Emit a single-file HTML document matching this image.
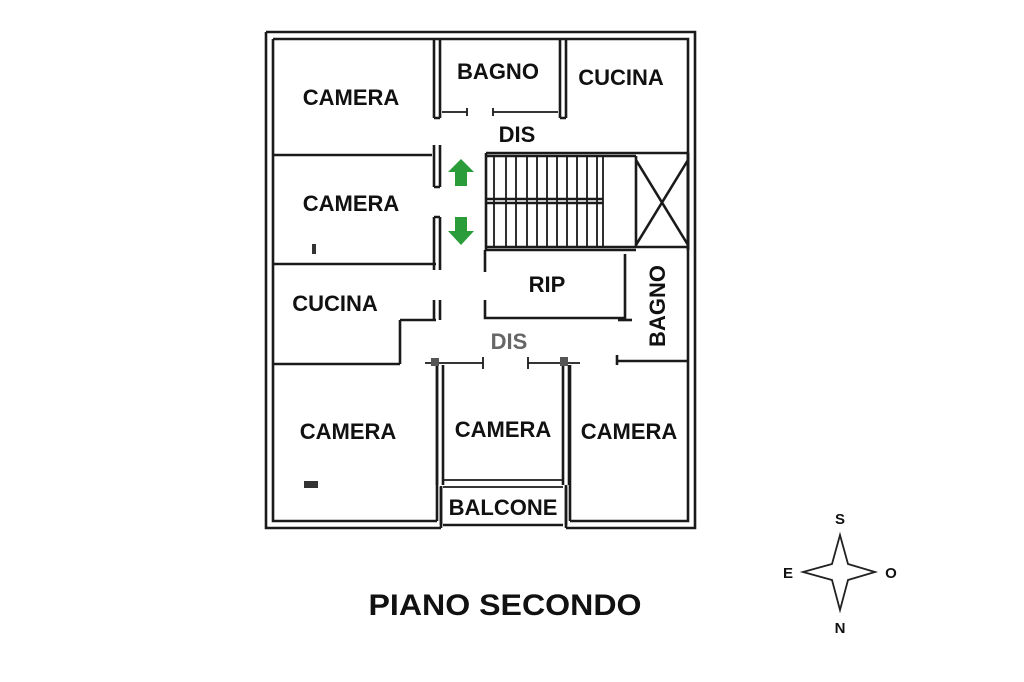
<!DOCTYPE html>
<html><head><meta charset="utf-8"><style>
html,body{margin:0;padding:0;background:#fff;}
svg{display:block;}
text{font-family:"Liberation Sans",sans-serif;font-weight:bold;fill:#111;}
</style></head><body>
<svg width="1024" height="682" viewBox="0 0 1024 682" xmlns="http://www.w3.org/2000/svg">
<g stroke="#1a1a1a" stroke-width="2.6" fill="none">
<path d="M266 32 H695 V528 H566 M266 32 V528 H441"/>
<path d="M273 39 H688 V521 H570 M273 39 V521 H437"/>
<path d="M441 528 V486 M437 521 V365"/>
<path d="M443 525 H563"/>
<path d="M566 528 V485 M570 521 V365"/>
<path d="M434 39 V118 M440 39 V118 M434 118 H440"/>
<path d="M560 39 V118 M566 39 V118 M560 118 H566"/>
<path d="M442 112 H467 M467 108 V116 M493 108 V116 M493 112 H558" stroke-width="1.8"/>
<path d="M274 155 H432"/>
<path d="M434 145 V187 M440 145 V187 M434 187 H440"/>
<path d="M434 217 V270 M440 217 V270 M434 217 H440"/>
<path d="M274 264 H436"/>
<path d="M486 153 H688 M486 156 H636"/>
<path d="M486 247 H688 M486 250 H636"/>
<path d="M486 153 V250"/>
<path d="M486 199 H603 M486 203 H603"/>
<path d="M494 156 V247 M506 156 V247 M516 156 V247 M527 156 V247 M537 156 V247 M547 156 V247 M557 156 V247 M567 156 V247 M577 156 V247 M587 156 V247 M597 156 V247 M603 156 V247" stroke-width="1.8"/>
<path d="M636 156 V247 M636 160 L688 245 M688 160 L636 245"/>
<path d="M688 153 V250" stroke-width="3"/>
<path d="M485 250 V272 M485 300 V318 H625 M625 254 V320"/>
<path d="M618 320 H632"/>
<path d="M617 361 H688 M617 355 V365"/>
<path d="M434 300 V320 M440 300 V320"/>
<path d="M400 320 H436 M400 320 V364 M274 364 H400"/>
<path d="M425 363 H483 M483 357 V369" stroke-width="1.8"/>
<path d="M528 363 H566 M528 357 V369 M566 363 H580" stroke-width="1.8"/>
<path d="M437 365 V485 M443 365 V485 M563 365 V485 M569 365 V485"/>
<path d="M443 480 H563 M443 487 H563" stroke-width="1.8"/>
<path d="M441 487 V525 M566 487 V525"/>
</g>
<rect x="431" y="358" width="8" height="8" fill="#555"/>
<rect x="560" y="357" width="8" height="9" fill="#555"/>
<rect x="312" y="244" width="4" height="10" fill="#333"/>
<rect x="304" y="481" width="14" height="7" fill="#333"/>
<path d="M461 159 L474 172 H467 V186 H455 V172 H448 Z" fill="#2a9d3a"/>
<path d="M461 245 L474 231 H467 V217 H455 V231 H448 Z" fill="#2a9d3a"/>
<g font-size="22" text-anchor="middle">
<text x="351" y="105">CAMERA</text>
<text x="498" y="79">BAGNO</text>
<text x="621" y="85">CUCINA</text>
<text x="517" y="142">DIS</text>
<text x="351" y="211">CAMERA</text>
<text x="335" y="311">CUCINA</text>
<text x="547" y="292">RIP</text>
<text x="509" y="349" style="fill:#666">DIS</text>
<text x="348" y="439">CAMERA</text>
<text x="503" y="437">CAMERA</text>
<text x="629" y="439">CAMERA</text>
<text x="503" y="515">BALCONE</text>
<text transform="translate(665,306) rotate(-90)">BAGNO</text>
</g>
<text x="505" y="615" font-size="30" text-anchor="middle" textLength="273" lengthAdjust="spacingAndGlyphs">PIANO SECONDO</text>
<path d="M840 535 L848 564 L875 572 L848 580 L840 610 L832 580 L803 572 L832 564 Z" fill="#fff" stroke="#222" stroke-width="1.8"/>
<g font-size="15" text-anchor="middle">
<text x="840" y="524">S</text>
<text x="788" y="578">E</text>
<text x="891" y="578">O</text>
<text x="840" y="633">N</text>
</g>
</svg>
</body></html>
